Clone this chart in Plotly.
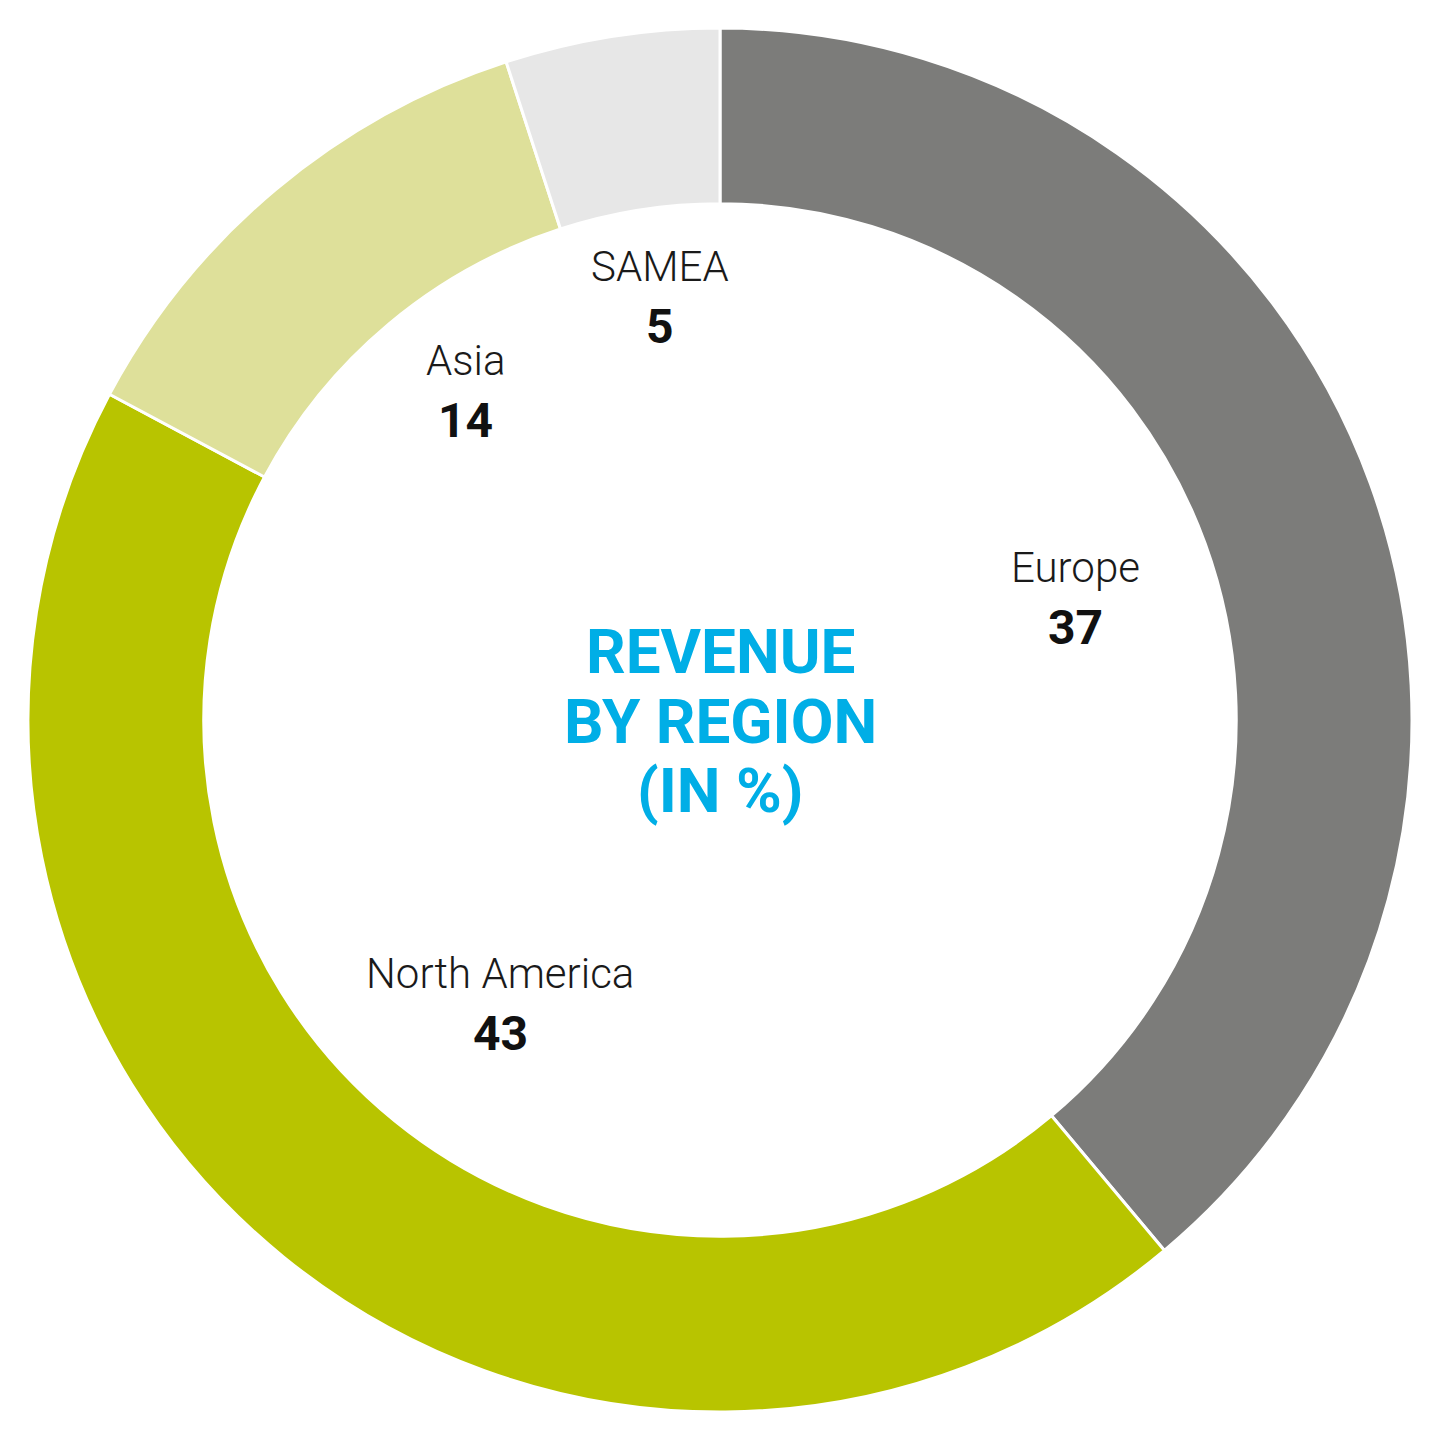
import math
import plotly.graph_objects as go

# ---- data ----
regions = ["Europe", "North America", "Asia", "SAMEA"]
arc_shares = [38.9, 43.9, 12.2, 5.0]        # arc sizes as drawn in the picture
shown_values = ["37", "43", "14", "5"]       # numbers printed in the labels
title_lines = ["REVENUE", "BY REGION", "(IN %)"]

# ---- styles / layout ----
colors = ["#7C7C7A", "#B8C400", "#DEE09A", "#E7E7E7"]
W = 1440
P = 1384                      # plot-area side -> outer radius 692 px
ML, MT = 20, 20               # page body adds 8 px offset
MR, MB = W - P - ML, W - P - MT
label_radius_px = [376, 359, 416, 428]
label_angle_nudge = [0.9, -1.3, 2.3, 0.9]   # degrees

fig = go.Figure(
    go.Pie(
        labels=regions,
        values=arc_shares,
        sort=False,
        direction="clockwise",
        rotation=0,
        hole=0.746,
        marker=dict(colors=colors, line=dict(color="white", width=3)),
        textinfo="none",
        hoverinfo="label",
        showlegend=False,
    )
)

annotations = []
total = sum(arc_shares)
cum = 0.0
for name, v, txt, r, nudge in zip(regions, arc_shares, shown_values,
                                  label_radius_px, label_angle_nudge):
    mid = math.radians((cum + v / 2) / total * 360 + nudge)
    cum += v
    x = 0.5 + r * math.sin(mid) / P
    y = 0.5 + r * math.cos(mid) / P
    annotations.append(dict(
        text=name, x=x, y=y + 30 / P, xref="paper", yref="paper",
        xanchor="center", yanchor="middle", showarrow=False,
        font=dict(family="Roboto", size=42, color="#1a1a1a", weight=300),
    ))
    annotations.append(dict(
        text=txt, x=x, y=y - 30 / P, xref="paper", yref="paper",
        xanchor="center", yanchor="middle", showarrow=False,
        font=dict(family="Roboto", size=48, color="#111111", weight="bold"),
    ))

for i, line in enumerate(title_lines):
    annotations.append(dict(
        text=line, x=0.5, y=0.5 + (70 - 70 * i - 1) / P, xref="paper", yref="paper",
        xanchor="center", yanchor="middle", showarrow=False,
        font=dict(family="Roboto", size=62, color="#00AEE6", weight="bold"),
    ))

fig.update_layout(
    width=W, height=W,
    margin=dict(l=ML, r=MR, t=MT, b=MB),
    paper_bgcolor="white",
    plot_bgcolor="white",
    annotations=annotations,
)

fig.write_html("out.html")
